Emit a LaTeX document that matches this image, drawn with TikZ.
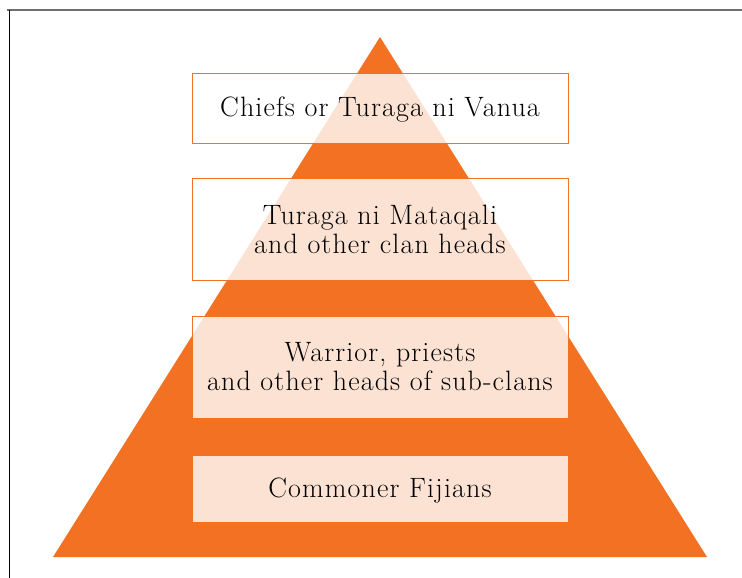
\documentclass[tikz,border=0pt]{standalone}
\usepackage{fontspec}
\setmainfont{Latin Modern Roman}[LetterSpace=4]
\usepackage{xcolor}
\usepackage{tikz}
\usetikzlibrary{positioning,calc}
\definecolor{fijiorange}{RGB}{243,113,35}
\definecolor{framegray}{RGB}{112,112,112}

\begin{document}
\begin{tikzpicture}[x=1pt,y=-1pt,
  tier/.style={draw=fijiorange, line width=0.8pt, fill=white, fill opacity=0.8, text opacity=1,
    minimum width=376pt, align=center, inner sep=0pt,
    font=\fontsize{28}{29}\selectfont},
  oneline/.style={text height=18pt, text depth=0pt}]
  \useasboundingbox (0,0) rectangle (742,578);

  % frame
  \draw[framegray, line width=1.8pt] (7,10) -- (742,10);
  \draw[black, line width=1pt] (9,10) -- (9,578);

  % pyramid
  \coordinate (apex) at (380,37);
  \coordinate (baseL) at (53,557);
  \coordinate (baseR) at (707,557);
  \fill[fijiorange] (apex) -- (baseR) -- (baseL) -- cycle;

  % tiers
  \node[tier, oneline, minimum height=70pt] (chiefs) at (380,108) {Chiefs or Turaga ni Vanua};
  \node[tier, minimum height=102pt] (clans) at (380,229) {Turaga ni Mataqali\\and other clan heads};
  \node[tier, minimum height=102pt] (subclans) at (380,367) {Warrior, priests\\and other heads of sub-clans};
  \node[tier, oneline, minimum height=67pt] (commoners) at (380,488.5) {Commoner Fijians};

\end{tikzpicture}
\end{document}
